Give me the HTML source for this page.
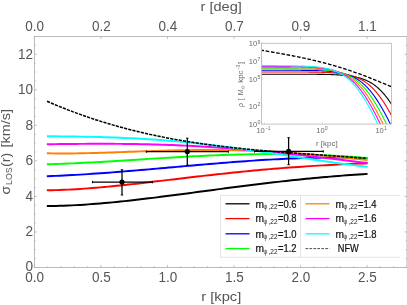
<!DOCTYPE html>
<html><head><meta charset="utf-8"><title>chart</title>
<style>html,body{margin:0;padding:0;background:#fff;overflow:hidden}svg{will-change:transform}svg text{font-family:"Liberation Sans",sans-serif}</style></head>
<body>
<svg width="407" height="305" viewBox="0 0 407 305" style="display:block;position:absolute;left:0;top:0">
<rect width="407" height="305" fill="#fff"/>
<path d="M47.8,206.06 L51.8,206.01 L55.9,205.93 L59.9,205.83 L63.9,205.69 L68.0,205.53 L72.0,205.35 L76.0,205.14 L80.1,204.91 L84.1,204.66 L88.2,204.38 L92.2,204.09 L96.2,203.77 L100.3,203.44 L104.3,203.09 L108.3,202.73 L112.4,202.35 L116.4,201.95 L120.4,201.54 L124.5,201.12 L128.5,200.68 L132.5,200.23 L136.6,199.78 L140.6,199.31 L144.7,198.83 L148.7,198.34 L152.7,197.85 L156.8,197.35 L160.8,196.84 L164.8,196.33 L168.9,195.81 L172.9,195.29 L176.9,194.76 L181.0,194.23 L185.0,193.69 L189.0,193.16 L193.1,192.62 L197.1,192.08 L201.1,191.54 L205.2,191.01 L209.2,190.47 L213.3,189.93 L217.3,189.40 L221.3,188.86 L225.4,188.33 L229.4,187.80 L233.4,187.28 L237.5,186.76 L241.5,186.24 L245.5,185.73 L249.6,185.23 L253.6,184.72 L257.6,184.23 L261.7,183.74 L265.7,183.26 L269.7,182.78 L273.8,182.31 L277.8,181.85 L281.9,181.40 L285.9,180.95 L289.9,180.51 L294.0,180.08 L298.0,179.66 L302.0,179.25 L306.1,178.84 L310.1,178.45 L314.1,178.06 L318.2,177.68 L322.2,177.32 L326.2,176.96 L330.3,176.61 L334.3,176.27 L338.4,175.95 L342.4,175.63 L346.4,175.32 L350.5,175.02 L354.5,174.73 L358.5,174.45 L362.6,174.19 L366.6,173.93" fill="none" stroke="#000000" stroke-width="1.95" stroke-linecap="square"/>
<path d="M47.8,190.30 L51.8,190.22 L55.9,190.11 L59.9,189.98 L63.9,189.82 L68.0,189.63 L72.0,189.42 L76.0,189.18 L80.1,188.93 L84.1,188.65 L88.2,188.35 L92.2,188.04 L96.2,187.71 L100.3,187.36 L104.3,186.99 L108.3,186.62 L112.4,186.22 L116.4,185.82 L120.4,185.41 L124.5,184.98 L128.5,184.55 L132.5,184.11 L136.6,183.66 L140.6,183.21 L144.7,182.75 L148.7,182.28 L152.7,181.81 L156.8,181.34 L160.8,180.86 L164.8,180.38 L168.9,179.90 L172.9,179.43 L176.9,178.95 L181.0,178.47 L185.0,177.99 L189.0,177.52 L193.1,177.05 L197.1,176.58 L201.1,176.11 L205.2,175.65 L209.2,175.19 L213.3,174.74 L217.3,174.29 L221.3,173.85 L225.4,173.42 L229.4,172.99 L233.4,172.57 L237.5,172.16 L241.5,171.75 L245.5,171.35 L249.6,170.96 L253.6,170.58 L257.6,170.20 L261.7,169.84 L265.7,169.48 L269.7,169.13 L273.8,168.79 L277.8,168.46 L281.9,168.14 L285.9,167.83 L289.9,167.52 L294.0,167.23 L298.0,166.94 L302.0,166.66 L306.1,166.39 L310.1,166.13 L314.1,165.88 L318.2,165.64 L322.2,165.40 L326.2,165.17 L330.3,164.95 L334.3,164.74 L338.4,164.54 L342.4,164.34 L346.4,164.15 L350.5,163.96 L354.5,163.78 L358.5,163.60 L362.6,163.43 L366.6,163.27" fill="none" stroke="#ff0000" stroke-width="1.95" stroke-linecap="square"/>
<path d="M47.8,176.24 L51.8,176.08 L55.9,175.90 L59.9,175.71 L63.9,175.51 L68.0,175.30 L72.0,175.08 L76.0,174.85 L80.1,174.61 L84.1,174.36 L88.2,174.10 L92.2,173.83 L96.2,173.55 L100.3,173.26 L104.3,172.97 L108.3,172.67 L112.4,172.36 L116.4,172.04 L120.4,171.72 L124.5,171.40 L128.5,171.07 L132.5,170.73 L136.6,170.39 L140.6,170.05 L144.7,169.70 L148.7,169.35 L152.7,169.00 L156.8,168.64 L160.8,168.29 L164.8,167.93 L168.9,167.57 L172.9,167.21 L176.9,166.85 L181.0,166.49 L185.0,166.14 L189.0,165.78 L193.1,165.43 L197.1,165.07 L201.1,164.72 L205.2,164.38 L209.2,164.03 L213.3,163.69 L217.3,163.36 L221.3,163.03 L225.4,162.70 L229.4,162.38 L233.4,162.07 L237.5,161.76 L241.5,161.46 L245.5,161.17 L249.6,160.89 L253.6,160.61 L257.6,160.34 L261.7,160.09 L265.7,159.84 L269.7,159.60 L273.8,159.37 L277.8,159.16 L281.9,158.95 L285.9,158.76 L289.9,158.58 L294.0,158.41 L298.0,158.26 L302.0,158.12 L306.1,157.99 L310.1,157.88 L314.1,157.79 L318.2,157.71 L322.2,157.64 L326.2,157.59 L330.3,157.56 L334.3,157.55 L338.4,157.56 L342.4,157.58 L346.4,157.62 L350.5,157.68 L354.5,157.77 L358.5,157.87 L362.6,157.99 L366.6,158.14" fill="none" stroke="#0000ff" stroke-width="1.95" stroke-linecap="square"/>
<path d="M47.8,164.25 L51.8,164.13 L55.9,164.01 L59.9,163.86 L63.9,163.71 L68.0,163.55 L72.0,163.37 L76.0,163.19 L80.1,163.00 L84.1,162.79 L88.2,162.58 L92.2,162.36 L96.2,162.14 L100.3,161.91 L104.3,161.67 L108.3,161.43 L112.4,161.19 L116.4,160.94 L120.4,160.69 L124.5,160.44 L128.5,160.18 L132.5,159.92 L136.6,159.67 L140.6,159.41 L144.7,159.16 L148.7,158.90 L152.7,158.65 L156.8,158.40 L160.8,158.15 L164.8,157.90 L168.9,157.66 L172.9,157.42 L176.9,157.19 L181.0,156.96 L185.0,156.74 L189.0,156.53 L193.1,156.32 L197.1,156.11 L201.1,155.92 L205.2,155.73 L209.2,155.55 L213.3,155.38 L217.3,155.22 L221.3,155.06 L225.4,154.92 L229.4,154.78 L233.4,154.66 L237.5,154.55 L241.5,154.45 L245.5,154.35 L249.6,154.27 L253.6,154.21 L257.6,154.15 L261.7,154.11 L265.7,154.08 L269.7,154.06 L273.8,154.06 L277.8,154.06 L281.9,154.09 L285.9,154.12 L289.9,154.17 L294.0,154.24 L298.0,154.32 L302.0,154.41 L306.1,154.52 L310.1,154.64 L314.1,154.78 L318.2,154.93 L322.2,155.10 L326.2,155.29 L330.3,155.49 L334.3,155.70 L338.4,155.93 L342.4,156.18 L346.4,156.44 L350.5,156.72 L354.5,157.02 L358.5,157.33 L362.6,157.66 L366.6,158.00" fill="none" stroke="#00ff00" stroke-width="1.95" stroke-linecap="square"/>
<path d="M47.8,153.33 L51.8,153.40 L55.9,153.45 L59.9,153.47 L63.9,153.47 L68.0,153.46 L72.0,153.42 L76.0,153.37 L80.1,153.31 L84.1,153.23 L88.2,153.14 L92.2,153.04 L96.2,152.93 L100.3,152.81 L104.3,152.68 L108.3,152.55 L112.4,152.41 L116.4,152.27 L120.4,152.13 L124.5,151.98 L128.5,151.84 L132.5,151.69 L136.6,151.54 L140.6,151.40 L144.7,151.26 L148.7,151.12 L152.7,150.99 L156.8,150.86 L160.8,150.74 L164.8,150.63 L168.9,150.52 L172.9,150.42 L176.9,150.33 L181.0,150.25 L185.0,150.18 L189.0,150.11 L193.1,150.06 L197.1,150.03 L201.1,150.00 L205.2,149.98 L209.2,149.98 L213.3,149.99 L217.3,150.01 L221.3,150.05 L225.4,150.10 L229.4,150.16 L233.4,150.24 L237.5,150.34 L241.5,150.44 L245.5,150.56 L249.6,150.70 L253.6,150.85 L257.6,151.01 L261.7,151.19 L265.7,151.39 L269.7,151.59 L273.8,151.81 L277.8,152.05 L281.9,152.30 L285.9,152.56 L289.9,152.84 L294.0,153.13 L298.0,153.43 L302.0,153.74 L306.1,154.07 L310.1,154.40 L314.1,154.75 L318.2,155.11 L322.2,155.48 L326.2,155.86 L330.3,156.25 L334.3,156.64 L338.4,157.05 L342.4,157.46 L346.4,157.87 L350.5,158.30 L354.5,158.72 L358.5,159.15 L362.6,159.59 L366.6,160.03" fill="none" stroke="#ff8000" stroke-width="1.95" stroke-linecap="square"/>
<path d="M47.8,144.22 L51.8,144.18 L55.9,144.13 L59.9,144.08 L63.9,144.04 L68.0,144.00 L72.0,143.96 L76.0,143.92 L80.1,143.89 L84.1,143.87 L88.2,143.84 L92.2,143.83 L96.2,143.81 L100.3,143.81 L104.3,143.81 L108.3,143.82 L112.4,143.83 L116.4,143.85 L120.4,143.88 L124.5,143.92 L128.5,143.97 L132.5,144.02 L136.6,144.09 L140.6,144.16 L144.7,144.24 L148.7,144.33 L152.7,144.43 L156.8,144.55 L160.8,144.67 L164.8,144.80 L168.9,144.94 L172.9,145.09 L176.9,145.26 L181.0,145.43 L185.0,145.61 L189.0,145.81 L193.1,146.01 L197.1,146.23 L201.1,146.46 L205.2,146.70 L209.2,146.95 L213.3,147.21 L217.3,147.48 L221.3,147.76 L225.4,148.05 L229.4,148.35 L233.4,148.66 L237.5,148.98 L241.5,149.31 L245.5,149.66 L249.6,150.01 L253.6,150.37 L257.6,150.74 L261.7,151.12 L265.7,151.50 L269.7,151.90 L273.8,152.30 L277.8,152.71 L281.9,153.13 L285.9,153.56 L289.9,153.99 L294.0,154.43 L298.0,154.87 L302.0,155.32 L306.1,155.78 L310.1,156.24 L314.1,156.70 L318.2,157.17 L322.2,157.64 L326.2,158.12 L330.3,158.59 L334.3,159.07 L338.4,159.55 L342.4,160.03 L346.4,160.51 L350.5,161.00 L354.5,161.47 L358.5,161.95 L362.6,162.43 L366.6,162.90" fill="none" stroke="#ff00ff" stroke-width="1.95" stroke-linecap="square"/>
<path d="M47.8,136.27 L51.8,136.30 L55.9,136.33 L59.9,136.37 L63.9,136.41 L68.0,136.46 L72.0,136.51 L76.0,136.56 L80.1,136.63 L84.1,136.70 L88.2,136.77 L92.2,136.86 L96.2,136.96 L100.3,137.06 L104.3,137.18 L108.3,137.30 L112.4,137.44 L116.4,137.59 L120.4,137.75 L124.5,137.92 L128.5,138.11 L132.5,138.30 L136.6,138.52 L140.6,138.74 L144.7,138.98 L148.7,139.23 L152.7,139.49 L156.8,139.77 L160.8,140.07 L164.8,140.38 L168.9,140.70 L172.9,141.03 L176.9,141.38 L181.0,141.75 L185.0,142.13 L189.0,142.52 L193.1,142.93 L197.1,143.35 L201.1,143.78 L205.2,144.23 L209.2,144.69 L213.3,145.16 L217.3,145.64 L221.3,146.14 L225.4,146.65 L229.4,147.17 L233.4,147.70 L237.5,148.24 L241.5,148.79 L245.5,149.35 L249.6,149.92 L253.6,150.50 L257.6,151.08 L261.7,151.68 L265.7,152.28 L269.7,152.88 L273.8,153.49 L277.8,154.10 L281.9,154.72 L285.9,155.34 L289.9,155.96 L294.0,156.58 L298.0,157.21 L302.0,157.83 L306.1,158.45 L310.1,159.06 L314.1,159.68 L318.2,160.29 L322.2,160.89 L326.2,161.48 L330.3,162.07 L334.3,162.65 L338.4,163.21 L342.4,163.77 L346.4,164.31 L350.5,164.84 L354.5,165.35 L358.5,165.85 L362.6,166.33 L366.6,166.78" fill="none" stroke="#00ffff" stroke-width="1.95" stroke-linecap="square"/>
<path d="M47.0,101.26 L51.0,103.01 L55.1,104.72 L59.1,106.38 L63.2,108.01 L67.2,109.60 L71.3,111.15 L75.3,112.66 L79.4,114.14 L83.4,115.57 L87.5,116.98 L91.5,118.34 L95.5,119.67 L99.6,120.97 L103.6,122.23 L107.7,123.45 L111.7,124.65 L115.8,125.81 L119.8,126.94 L123.9,128.03 L127.9,129.10 L132.0,130.13 L136.0,131.14 L140.0,132.11 L144.1,133.06 L148.1,133.97 L152.2,134.86 L156.2,135.72 L160.3,136.56 L164.3,137.37 L168.4,138.15 L172.4,138.91 L176.5,139.64 L180.5,140.35 L184.5,141.04 L188.6,141.70 L192.6,142.34 L196.7,142.96 L200.7,143.56 L204.8,144.14 L208.8,144.70 L212.9,145.24 L216.9,145.77 L221.0,146.27 L225.0,146.76 L229.1,147.23 L233.1,147.69 L237.1,148.13 L241.2,148.56 L245.2,148.97 L249.3,149.37 L253.3,149.75 L257.4,150.13 L261.4,150.49 L265.5,150.85 L269.5,151.19 L273.6,151.53 L277.6,151.86 L281.6,152.17 L285.7,152.49 L289.7,152.79 L293.8,153.09 L297.8,153.39 L301.9,153.68 L305.9,153.97 L310.0,154.26 L314.0,154.54 L318.1,154.83 L322.1,155.11 L326.1,155.39 L330.2,155.68 L334.2,155.96 L338.3,156.25 L342.3,156.54 L346.4,156.84 L350.4,157.14 L354.5,157.45 L358.5,157.76 L362.6,158.08 L366.6,158.41" fill="none" stroke="#000" stroke-width="1.5" stroke-dasharray="3.2 1.1"/>
<g stroke="#000" stroke-width="1.25" fill="none">
<path d="M92.5,182.1H152.4M122.0,169.8V195.0"/>
<path d="M92.5,180.9v2.4M152.4,180.9v2.4M120.8,169.8h2.4M120.8,195.0h2.4" stroke-width="1"/>
</g>
<circle cx="122.0" cy="182.1" r="2.6" fill="#000"/>
<g stroke="#000" stroke-width="1.25" fill="none">
<path d="M146.3,151.6H228.3M187.3,138.2V165.2"/>
<path d="M146.3,150.4v2.4M228.3,150.4v2.4M186.10000000000002,138.2h2.4M186.10000000000002,165.2h2.4" stroke-width="1"/>
</g>
<circle cx="187.3" cy="151.6" r="2.6" fill="#000"/>
<g stroke="#000" stroke-width="1.25" fill="none">
<path d="M254.5,151.4H323.3M288.6,137.7V164.7"/>
<path d="M254.5,150.20000000000002v2.4M323.3,150.20000000000002v2.4M287.40000000000003,137.7h2.4M287.40000000000003,164.7h2.4" stroke-width="1"/>
</g>
<circle cx="288.6" cy="151.4" r="2.6" fill="#000"/>
<path d="M407.0,36.5H34.45V267.5H407.0" fill="none" stroke="#bcbcbc" stroke-width="1" stroke-linecap="square"/><path d="M407.0,36.5V267.5" stroke="#bcbcbc" stroke-width="1"/>
<path d="M34.45,267.5v-2.4M34.45,36.5v2.4M47.76,267.5v-1.3M61.06,267.5v-1.3M74.37,267.5v-1.3M87.67,267.5v-1.3M100.98,267.5v-2.4M100.98,36.5v2.4M114.28,267.5v-1.3M127.59,267.5v-1.3M140.89,267.5v-1.3M154.20,267.5v-1.3M167.50,267.5v-2.4M167.50,36.5v2.4M180.81,267.5v-1.3M194.11,267.5v-1.3M207.42,267.5v-1.3M220.73,267.5v-1.3M234.03,267.5v-2.4M234.03,36.5v2.4M247.34,267.5v-1.3M260.64,267.5v-1.3M273.95,267.5v-1.3M287.25,267.5v-1.3M300.56,267.5v-2.4M300.56,36.5v2.4M313.86,267.5v-1.3M327.17,267.5v-1.3M340.47,267.5v-1.3M353.78,267.5v-1.3M367.08,267.5v-2.4M367.08,36.5v2.4M380.39,267.5v-1.3M393.69,267.5v-1.3M407.00,267.5v-1.3M34.45,267.50h2.4M407.0,267.50h-2.4M34.45,258.62h1.3M407.0,258.62h-1.3M34.45,249.73h1.3M407.0,249.73h-1.3M34.45,240.85h1.3M407.0,240.85h-1.3M34.45,231.96h2.4M407.0,231.96h-2.4M34.45,223.08h1.3M407.0,223.08h-1.3M34.45,214.19h1.3M407.0,214.19h-1.3M34.45,205.31h1.3M407.0,205.31h-1.3M34.45,196.42h2.4M407.0,196.42h-2.4M34.45,187.54h1.3M407.0,187.54h-1.3M34.45,178.65h1.3M407.0,178.65h-1.3M34.45,169.77h1.3M407.0,169.77h-1.3M34.45,160.88h2.4M407.0,160.88h-2.4M34.45,152.00h1.3M407.0,152.00h-1.3M34.45,143.12h1.3M407.0,143.12h-1.3M34.45,134.23h1.3M407.0,134.23h-1.3M34.45,125.35h2.4M407.0,125.35h-2.4M34.45,116.46h1.3M407.0,116.46h-1.3M34.45,107.58h1.3M407.0,107.58h-1.3M34.45,98.69h1.3M407.0,98.69h-1.3M34.45,89.81h2.4M407.0,89.81h-2.4M34.45,80.92h1.3M407.0,80.92h-1.3M34.45,72.04h1.3M407.0,72.04h-1.3M34.45,63.15h1.3M407.0,63.15h-1.3M34.45,54.27h2.4M407.0,54.27h-2.4M34.45,45.38h1.3M407.0,45.38h-1.3M34.45,36.50h1.3M407.0,36.50h-1.3" stroke="#aeaeae" stroke-width="0.8" fill="none"/>
<text x="34.75" y="282.3" font-size="14.0" text-anchor="middle" fill="#555555" textLength="18.8" lengthAdjust="spacingAndGlyphs">0.0</text>
<text x="101.27678571428572" y="282.3" font-size="14.0" text-anchor="middle" fill="#555555" textLength="18.8" lengthAdjust="spacingAndGlyphs">0.5</text>
<text x="167.80357142857144" y="282.3" font-size="14.0" text-anchor="middle" fill="#555555" textLength="18.8" lengthAdjust="spacingAndGlyphs">1.0</text>
<text x="234.33035714285717" y="282.3" font-size="14.0" text-anchor="middle" fill="#555555" textLength="18.8" lengthAdjust="spacingAndGlyphs">1.5</text>
<text x="300.8571428571429" y="282.3" font-size="14.0" text-anchor="middle" fill="#555555" textLength="18.8" lengthAdjust="spacingAndGlyphs">2.0</text>
<text x="367.3839285714286" y="282.3" font-size="14.0" text-anchor="middle" fill="#555555" textLength="18.8" lengthAdjust="spacingAndGlyphs">2.5</text>
<text x="34.75" y="31.0" font-size="14.0" text-anchor="middle" fill="#555555" textLength="18.8" lengthAdjust="spacingAndGlyphs">0.0</text>
<text x="101.27678571428572" y="31.0" font-size="14.0" text-anchor="middle" fill="#555555" textLength="18.8" lengthAdjust="spacingAndGlyphs">0.2</text>
<text x="167.80357142857144" y="31.0" font-size="14.0" text-anchor="middle" fill="#555555" textLength="18.8" lengthAdjust="spacingAndGlyphs">0.4</text>
<text x="234.33035714285717" y="31.0" font-size="14.0" text-anchor="middle" fill="#555555" textLength="18.8" lengthAdjust="spacingAndGlyphs">0.7</text>
<text x="300.8571428571429" y="31.0" font-size="14.0" text-anchor="middle" fill="#555555" textLength="18.8" lengthAdjust="spacingAndGlyphs">0.9</text>
<text x="367.3839285714286" y="31.0" font-size="14.0" text-anchor="middle" fill="#555555" textLength="18.8" lengthAdjust="spacingAndGlyphs">1.1</text>
<text x="33.0" y="271.1" font-size="14.0" text-anchor="end" fill="#555555" textLength="7.6" lengthAdjust="spacingAndGlyphs">0</text>
<text x="33.0" y="236.21153846153845" font-size="14.0" text-anchor="end" fill="#555555" textLength="7.6" lengthAdjust="spacingAndGlyphs">2</text>
<text x="33.0" y="200.6730769230769" font-size="14.0" text-anchor="end" fill="#555555" textLength="7.6" lengthAdjust="spacingAndGlyphs">4</text>
<text x="33.0" y="165.1346153846154" font-size="14.0" text-anchor="end" fill="#555555" textLength="7.6" lengthAdjust="spacingAndGlyphs">6</text>
<text x="33.0" y="129.59615384615384" font-size="14.0" text-anchor="end" fill="#555555" textLength="7.6" lengthAdjust="spacingAndGlyphs">8</text>
<text x="33.0" y="94.05769230769229" font-size="14.0" text-anchor="end" fill="#555555" textLength="15.0" lengthAdjust="spacingAndGlyphs">10</text>
<text x="33.0" y="58.519230769230774" font-size="14.0" text-anchor="end" fill="#555555" textLength="15.0" lengthAdjust="spacingAndGlyphs">12</text>
<text x="221.3" y="301.4" font-size="13.5" text-anchor="middle" fill="#555555" textLength="40" lengthAdjust="spacingAndGlyphs">r [kpc]</text>
<text x="221.2" y="10.6" font-size="13.5" text-anchor="middle" fill="#555555" textLength="41.3" lengthAdjust="spacingAndGlyphs">r [deg]</text>
<g transform="translate(10.3,194.6) rotate(-90)" fill="#555555"><text x="0" y="0" font-size="13.5" textLength="8.6" lengthAdjust="spacingAndGlyphs">σ</text><text x="9.6" y="1.7" font-size="9.6" textLength="17.6" lengthAdjust="spacingAndGlyphs">LOS</text><text x="27.6" y="0" font-size="13.5" textLength="14.2" lengthAdjust="spacingAndGlyphs">(r)</text><text x="47" y="0" font-size="13.5" textLength="38.6" lengthAdjust="spacingAndGlyphs">[km/s]</text></g>
<rect x="220.5" y="195.4" width="180" height="61.9" fill="#fff"/><path d="M400.3,195.4H220.5V257.3H400.3" fill="none" stroke="#dcdcdc" stroke-width="0.8"/>
<path d="M300.5,195.4V257.3" stroke="#dcdcdc" stroke-width="0.8"/>
<path d="M225.5,203.8H249.5" stroke="#000000" stroke-width="1.3"/><text x="255.4" y="207.55" font-size="10.1" fill="#111" stroke="#111" stroke-width="0.2" textLength="8.5" lengthAdjust="spacingAndGlyphs">m</text><text x="263.6" y="209.25" font-size="6.6" fill="#111" textLength="3.7" lengthAdjust="spacingAndGlyphs">ψ</text><text x="268.5" y="209.25" font-size="6.6" fill="#111" textLength="9.0" lengthAdjust="spacingAndGlyphs">,22</text><text x="278.0" y="207.55" font-size="10.1" fill="#111" stroke="#111" stroke-width="0.2" textLength="18.6" lengthAdjust="spacingAndGlyphs">=0.6</text>
<path d="M225.5,218.6H249.5" stroke="#ff0000" stroke-width="1.3"/><text x="255.4" y="222.35" font-size="10.1" fill="#111" stroke="#111" stroke-width="0.2" textLength="8.5" lengthAdjust="spacingAndGlyphs">m</text><text x="263.6" y="224.04999999999998" font-size="6.6" fill="#111" textLength="3.7" lengthAdjust="spacingAndGlyphs">ψ</text><text x="268.5" y="224.04999999999998" font-size="6.6" fill="#111" textLength="9.0" lengthAdjust="spacingAndGlyphs">,22</text><text x="278.0" y="222.35" font-size="10.1" fill="#111" stroke="#111" stroke-width="0.2" textLength="18.6" lengthAdjust="spacingAndGlyphs">=0.8</text>
<path d="M225.5,233.8H249.5" stroke="#0000ff" stroke-width="1.3"/><text x="255.4" y="237.55" font-size="10.1" fill="#111" stroke="#111" stroke-width="0.2" textLength="8.5" lengthAdjust="spacingAndGlyphs">m</text><text x="263.6" y="239.25" font-size="6.6" fill="#111" textLength="3.7" lengthAdjust="spacingAndGlyphs">ψ</text><text x="268.5" y="239.25" font-size="6.6" fill="#111" textLength="9.0" lengthAdjust="spacingAndGlyphs">,22</text><text x="278.0" y="237.55" font-size="10.1" fill="#111" stroke="#111" stroke-width="0.2" textLength="18.6" lengthAdjust="spacingAndGlyphs">=1.0</text>
<path d="M225.5,248.6H249.5" stroke="#00ff00" stroke-width="1.3"/><text x="255.4" y="252.35" font-size="10.1" fill="#111" stroke="#111" stroke-width="0.2" textLength="8.5" lengthAdjust="spacingAndGlyphs">m</text><text x="263.6" y="254.04999999999998" font-size="6.6" fill="#111" textLength="3.7" lengthAdjust="spacingAndGlyphs">ψ</text><text x="268.5" y="254.04999999999998" font-size="6.6" fill="#111" textLength="9.0" lengthAdjust="spacingAndGlyphs">,22</text><text x="278.0" y="252.35" font-size="10.1" fill="#111" stroke="#111" stroke-width="0.2" textLength="18.6" lengthAdjust="spacingAndGlyphs">=1.2</text>
<path d="M305.5,203.8H329.5" stroke="#ff8000" stroke-width="1.3"/><text x="335.4" y="207.55" font-size="10.1" fill="#111" stroke="#111" stroke-width="0.2" textLength="8.5" lengthAdjust="spacingAndGlyphs">m</text><text x="343.59999999999997" y="209.25" font-size="6.6" fill="#111" textLength="3.7" lengthAdjust="spacingAndGlyphs">ψ</text><text x="348.5" y="209.25" font-size="6.6" fill="#111" textLength="9.0" lengthAdjust="spacingAndGlyphs">,22</text><text x="358.0" y="207.55" font-size="10.1" fill="#111" stroke="#111" stroke-width="0.2" textLength="18.6" lengthAdjust="spacingAndGlyphs">=1.4</text>
<path d="M305.5,218.6H329.5" stroke="#ff00ff" stroke-width="1.3"/><text x="335.4" y="222.35" font-size="10.1" fill="#111" stroke="#111" stroke-width="0.2" textLength="8.5" lengthAdjust="spacingAndGlyphs">m</text><text x="343.59999999999997" y="224.04999999999998" font-size="6.6" fill="#111" textLength="3.7" lengthAdjust="spacingAndGlyphs">ψ</text><text x="348.5" y="224.04999999999998" font-size="6.6" fill="#111" textLength="9.0" lengthAdjust="spacingAndGlyphs">,22</text><text x="358.0" y="222.35" font-size="10.1" fill="#111" stroke="#111" stroke-width="0.2" textLength="18.6" lengthAdjust="spacingAndGlyphs">=1.6</text>
<path d="M305.5,233.8H329.5" stroke="#00ffff" stroke-width="1.3"/><text x="335.4" y="237.55" font-size="10.1" fill="#111" stroke="#111" stroke-width="0.2" textLength="8.5" lengthAdjust="spacingAndGlyphs">m</text><text x="343.59999999999997" y="239.25" font-size="6.6" fill="#111" textLength="3.7" lengthAdjust="spacingAndGlyphs">ψ</text><text x="348.5" y="239.25" font-size="6.6" fill="#111" textLength="9.0" lengthAdjust="spacingAndGlyphs">,22</text><text x="358.0" y="237.55" font-size="10.1" fill="#111" stroke="#111" stroke-width="0.2" textLength="18.6" lengthAdjust="spacingAndGlyphs">=1.8</text>
<path d="M305.5,248.6H329.5" stroke="#222" stroke-width="0.8" stroke-dasharray="2.7 1.25"/>
<text x="337.8" y="252.35" font-size="10.1" fill="#111" stroke="#111" stroke-width="0.2" textLength="21" lengthAdjust="spacingAndGlyphs">NFW</text>
<clipPath id="ic"><rect x="261.5" y="43.3" width="129.89999999999998" height="80.8"/></clipPath>
<rect x="261.5" y="43.3" width="129.89999999999998" height="80.8" fill="#fff"/>
<g clip-path="url(#ic)">
<path d="M260.50,74.19 L261.16,74.19 L261.83,74.19 L262.49,74.19 L263.16,74.19 L263.82,74.19 L264.48,74.19 L265.15,74.19 L265.81,74.19 L266.48,74.19 L267.14,74.19 L267.80,74.19 L268.47,74.19 L269.13,74.19 L269.80,74.19 L270.46,74.19 L271.13,74.19 L271.79,74.19 L272.45,74.19 L273.12,74.19 L273.78,74.19 L274.45,74.19 L275.11,74.19 L275.77,74.19 L276.44,74.19 L277.10,74.19 L277.77,74.19 L278.43,74.19 L279.09,74.19 L279.76,74.19 L280.42,74.19 L281.09,74.19 L281.75,74.19 L282.42,74.19 L283.08,74.19 L283.74,74.19 L284.41,74.19 L285.07,74.19 L285.74,74.20 L286.40,74.20 L287.06,74.20 L287.73,74.20 L288.39,74.20 L289.06,74.20 L289.72,74.20 L290.38,74.20 L291.05,74.20 L291.71,74.20 L292.38,74.20 L293.04,74.20 L293.71,74.21 L294.37,74.21 L295.03,74.21 L295.70,74.21 L296.36,74.21 L297.03,74.21 L297.69,74.21 L298.35,74.21 L299.02,74.22 L299.68,74.22 L300.35,74.22 L301.01,74.22 L301.67,74.22 L302.34,74.23 L303.00,74.23 L303.67,74.23 L304.33,74.23 L305.00,74.24 L305.66,74.24 L306.32,74.24 L306.99,74.25 L307.65,74.25 L308.32,74.25 L308.98,74.26 L309.64,74.26 L310.31,74.26 L310.97,74.27 L311.64,74.27 L312.30,74.28 L312.96,74.28 L313.63,74.29 L314.29,74.29 L314.96,74.30 L315.62,74.31 L316.29,74.31 L316.95,74.32 L317.61,74.33 L318.28,74.34 L318.94,74.34 L319.61,74.35 L320.27,74.36 L320.93,74.37 L321.60,74.38 L322.26,74.39 L322.93,74.40 L323.59,74.41 L324.25,74.43 L324.92,74.44 L325.58,74.45 L326.25,74.47 L326.91,74.48 L327.58,74.50 L328.24,74.52 L328.90,74.54 L329.57,74.55 L330.23,74.57 L330.90,74.60 L331.56,74.62 L332.22,74.64 L332.89,74.67 L333.55,74.69 L334.22,74.72 L334.88,74.75 L335.54,74.78 L336.21,74.81 L336.87,74.84 L337.54,74.88 L338.20,74.91 L338.87,74.95 L339.53,74.99 L340.19,75.04 L340.86,75.08 L341.52,75.13 L342.19,75.18 L342.85,75.23 L343.51,75.29 L344.18,75.35 L344.84,75.41 L345.51,75.48 L346.17,75.54 L346.84,75.62 L347.50,75.69 L348.16,75.77 L348.83,75.85 L349.49,75.94 L350.16,76.03 L350.82,76.13 L351.48,76.23 L352.15,76.34 L352.81,76.45 L353.48,76.57 L354.14,76.70 L354.80,76.83 L355.47,76.96 L356.13,77.11 L356.80,77.26 L357.46,77.41 L358.13,77.58 L358.79,77.75 L359.45,77.93 L360.12,78.12 L360.78,78.32 L361.45,78.53 L362.11,78.75 L362.77,78.98 L363.44,79.22 L364.10,79.47 L364.77,79.73 L365.43,80.01 L366.09,80.29 L366.76,80.59 L367.42,80.90 L368.09,81.23 L368.75,81.56 L369.42,81.92 L370.08,82.29 L370.74,82.67 L371.41,83.07 L372.07,83.48 L372.74,83.91 L373.40,84.36 L374.06,84.83 L374.73,85.31 L375.39,85.81 L376.06,86.34 L376.72,86.87 L377.38,87.43 L378.05,88.01 L378.71,88.61 L379.38,89.23 L380.04,89.87 L380.71,90.52 L381.37,91.20 L382.03,91.91 L382.70,92.63 L383.36,93.37 L384.03,94.14 L384.69,94.92 L385.35,95.73 L386.02,96.56 L386.68,97.41 L387.35,98.29 L388.01,99.18 L388.67,100.10 L389.34,101.03 L390.00,101.99 L390.67,102.97 L391.33,103.97 L392.00,104.99 L392.66,106.03" fill="none" stroke="#000000" stroke-width="1.1"/>
<path d="M260.50,71.94 L261.16,71.94 L261.83,71.94 L262.49,71.94 L263.16,71.94 L263.82,71.94 L264.48,71.94 L265.15,71.94 L265.81,71.94 L266.48,71.94 L267.14,71.95 L267.80,71.95 L268.47,71.95 L269.13,71.95 L269.80,71.95 L270.46,71.95 L271.13,71.95 L271.79,71.95 L272.45,71.95 L273.12,71.95 L273.78,71.95 L274.45,71.95 L275.11,71.95 L275.77,71.95 L276.44,71.95 L277.10,71.95 L277.77,71.95 L278.43,71.95 L279.09,71.95 L279.76,71.95 L280.42,71.95 L281.09,71.96 L281.75,71.96 L282.42,71.96 L283.08,71.96 L283.74,71.96 L284.41,71.96 L285.07,71.96 L285.74,71.96 L286.40,71.96 L287.06,71.96 L287.73,71.97 L288.39,71.97 L289.06,71.97 L289.72,71.97 L290.38,71.97 L291.05,71.97 L291.71,71.98 L292.38,71.98 L293.04,71.98 L293.71,71.98 L294.37,71.98 L295.03,71.99 L295.70,71.99 L296.36,71.99 L297.03,71.99 L297.69,72.00 L298.35,72.00 L299.02,72.00 L299.68,72.01 L300.35,72.01 L301.01,72.01 L301.67,72.02 L302.34,72.02 L303.00,72.03 L303.67,72.03 L304.33,72.04 L305.00,72.04 L305.66,72.05 L306.32,72.05 L306.99,72.06 L307.65,72.06 L308.32,72.07 L308.98,72.08 L309.64,72.08 L310.31,72.09 L310.97,72.10 L311.64,72.11 L312.30,72.12 L312.96,72.13 L313.63,72.14 L314.29,72.15 L314.96,72.16 L315.62,72.17 L316.29,72.18 L316.95,72.20 L317.61,72.21 L318.28,72.23 L318.94,72.24 L319.61,72.26 L320.27,72.27 L320.93,72.29 L321.60,72.31 L322.26,72.33 L322.93,72.35 L323.59,72.37 L324.25,72.40 L324.92,72.42 L325.58,72.45 L326.25,72.48 L326.91,72.50 L327.58,72.53 L328.24,72.57 L328.90,72.60 L329.57,72.63 L330.23,72.67 L330.90,72.71 L331.56,72.75 L332.22,72.80 L332.89,72.84 L333.55,72.89 L334.22,72.94 L334.88,72.99 L335.54,73.05 L336.21,73.11 L336.87,73.17 L337.54,73.23 L338.20,73.30 L338.87,73.37 L339.53,73.45 L340.19,73.53 L340.86,73.61 L341.52,73.70 L342.19,73.79 L342.85,73.89 L343.51,73.99 L344.18,74.10 L344.84,74.21 L345.51,74.33 L346.17,74.45 L346.84,74.58 L347.50,74.72 L348.16,74.86 L348.83,75.02 L349.49,75.17 L350.16,75.34 L350.82,75.51 L351.48,75.69 L352.15,75.89 L352.81,76.08 L353.48,76.29 L354.14,76.51 L354.80,76.74 L355.47,76.98 L356.13,77.23 L356.80,77.49 L357.46,77.77 L358.13,78.05 L358.79,78.35 L359.45,78.66 L360.12,78.99 L360.78,79.33 L361.45,79.68 L362.11,80.05 L362.77,80.43 L363.44,80.83 L364.10,81.25 L364.77,81.68 L365.43,82.13 L366.09,82.60 L366.76,83.08 L367.42,83.58 L368.09,84.10 L368.75,84.64 L369.42,85.20 L370.08,85.78 L370.74,86.38 L371.41,87.00 L372.07,87.64 L372.74,88.30 L373.40,88.98 L374.06,89.68 L374.73,90.40 L375.39,91.14 L376.06,91.91 L376.72,92.70 L377.38,93.51 L378.05,94.34 L378.71,95.19 L379.38,96.06 L380.04,96.96 L380.71,97.87 L381.37,98.81 L382.03,99.77 L382.70,100.75 L383.36,101.75 L384.03,102.77 L384.69,103.81 L385.35,104.87 L386.02,105.95 L386.68,107.05 L387.35,108.17 L388.01,109.31 L388.67,110.46 L389.34,111.64 L390.00,112.83 L390.67,114.03 L391.33,115.26 L392.00,116.50 L392.66,117.76" fill="none" stroke="#ff0000" stroke-width="1.1"/>
<path d="M260.50,70.21 L261.16,70.21 L261.83,70.21 L262.49,70.21 L263.16,70.21 L263.82,70.21 L264.48,70.21 L265.15,70.21 L265.81,70.21 L266.48,70.21 L267.14,70.21 L267.80,70.21 L268.47,70.21 L269.13,70.21 L269.80,70.21 L270.46,70.21 L271.13,70.21 L271.79,70.21 L272.45,70.21 L273.12,70.21 L273.78,70.21 L274.45,70.21 L275.11,70.22 L275.77,70.22 L276.44,70.22 L277.10,70.22 L277.77,70.22 L278.43,70.22 L279.09,70.22 L279.76,70.22 L280.42,70.22 L281.09,70.23 L281.75,70.23 L282.42,70.23 L283.08,70.23 L283.74,70.23 L284.41,70.23 L285.07,70.23 L285.74,70.24 L286.40,70.24 L287.06,70.24 L287.73,70.24 L288.39,70.24 L289.06,70.25 L289.72,70.25 L290.38,70.25 L291.05,70.26 L291.71,70.26 L292.38,70.26 L293.04,70.26 L293.71,70.27 L294.37,70.27 L295.03,70.28 L295.70,70.28 L296.36,70.28 L297.03,70.29 L297.69,70.29 L298.35,70.30 L299.02,70.30 L299.68,70.31 L300.35,70.31 L301.01,70.32 L301.67,70.33 L302.34,70.33 L303.00,70.34 L303.67,70.35 L304.33,70.36 L305.00,70.37 L305.66,70.37 L306.32,70.38 L306.99,70.39 L307.65,70.40 L308.32,70.42 L308.98,70.43 L309.64,70.44 L310.31,70.45 L310.97,70.47 L311.64,70.48 L312.30,70.49 L312.96,70.51 L313.63,70.53 L314.29,70.55 L314.96,70.56 L315.62,70.58 L316.29,70.60 L316.95,70.63 L317.61,70.65 L318.28,70.67 L318.94,70.70 L319.61,70.72 L320.27,70.75 L320.93,70.78 L321.60,70.81 L322.26,70.85 L322.93,70.88 L323.59,70.92 L324.25,70.95 L324.92,71.00 L325.58,71.04 L326.25,71.08 L326.91,71.13 L327.58,71.18 L328.24,71.23 L328.90,71.29 L329.57,71.34 L330.23,71.40 L330.90,71.47 L331.56,71.53 L332.22,71.60 L332.89,71.68 L333.55,71.76 L334.22,71.84 L334.88,71.93 L335.54,72.02 L336.21,72.11 L336.87,72.21 L337.54,72.32 L338.20,72.43 L338.87,72.54 L339.53,72.66 L340.19,72.79 L340.86,72.93 L341.52,73.07 L342.19,73.21 L342.85,73.37 L343.51,73.53 L344.18,73.70 L344.84,73.88 L345.51,74.07 L346.17,74.26 L346.84,74.47 L347.50,74.68 L348.16,74.91 L348.83,75.14 L349.49,75.39 L350.16,75.65 L350.82,75.92 L351.48,76.20 L352.15,76.49 L352.81,76.80 L353.48,77.12 L354.14,77.45 L354.80,77.80 L355.47,78.16 L356.13,78.54 L356.80,78.93 L357.46,79.34 L358.13,79.77 L358.79,80.21 L359.45,80.67 L360.12,81.14 L360.78,81.64 L361.45,82.15 L362.11,82.69 L362.77,83.24 L363.44,83.81 L364.10,84.40 L364.77,85.01 L365.43,85.64 L366.09,86.29 L366.76,86.96 L367.42,87.66 L368.09,88.37 L368.75,89.11 L369.42,89.86 L370.08,90.64 L370.74,91.44 L371.41,92.26 L372.07,93.11 L372.74,93.97 L373.40,94.86 L374.06,95.76 L374.73,96.69 L375.39,97.64 L376.06,98.62 L376.72,99.61 L377.38,100.62 L378.05,101.65 L378.71,102.71 L379.38,103.78 L380.04,104.87 L380.71,105.98 L381.37,107.11 L382.03,108.26 L382.70,109.43 L383.36,110.61 L384.03,111.81 L384.69,113.03 L385.35,114.26 L386.02,115.51 L386.68,116.78 L387.35,118.06 L388.01,119.35 L388.67,120.66 L389.34,121.99 L390.00,123.32 L390.67,124.67 L391.33,126.03 L392.00,127.41 L392.66,128.79" fill="none" stroke="#0000ff" stroke-width="1.1"/>
<path d="M260.50,68.79 L261.16,68.79 L261.83,68.79 L262.49,68.79 L263.16,68.79 L263.82,68.79 L264.48,68.79 L265.15,68.79 L265.81,68.79 L266.48,68.79 L267.14,68.79 L267.80,68.79 L268.47,68.79 L269.13,68.79 L269.80,68.79 L270.46,68.79 L271.13,68.79 L271.79,68.80 L272.45,68.80 L273.12,68.80 L273.78,68.80 L274.45,68.80 L275.11,68.80 L275.77,68.80 L276.44,68.80 L277.10,68.80 L277.77,68.81 L278.43,68.81 L279.09,68.81 L279.76,68.81 L280.42,68.81 L281.09,68.81 L281.75,68.82 L282.42,68.82 L283.08,68.82 L283.74,68.82 L284.41,68.83 L285.07,68.83 L285.74,68.83 L286.40,68.83 L287.06,68.84 L287.73,68.84 L288.39,68.84 L289.06,68.85 L289.72,68.85 L290.38,68.85 L291.05,68.86 L291.71,68.86 L292.38,68.87 L293.04,68.87 L293.71,68.88 L294.37,68.88 L295.03,68.89 L295.70,68.89 L296.36,68.90 L297.03,68.91 L297.69,68.91 L298.35,68.92 L299.02,68.93 L299.68,68.93 L300.35,68.94 L301.01,68.95 L301.67,68.96 L302.34,68.97 L303.00,68.98 L303.67,68.99 L304.33,69.00 L305.00,69.02 L305.66,69.03 L306.32,69.04 L306.99,69.06 L307.65,69.07 L308.32,69.09 L308.98,69.10 L309.64,69.12 L310.31,69.14 L310.97,69.16 L311.64,69.18 L312.30,69.20 L312.96,69.22 L313.63,69.25 L314.29,69.27 L314.96,69.30 L315.62,69.33 L316.29,69.36 L316.95,69.39 L317.61,69.42 L318.28,69.46 L318.94,69.49 L319.61,69.53 L320.27,69.57 L320.93,69.61 L321.60,69.66 L322.26,69.70 L322.93,69.75 L323.59,69.81 L324.25,69.86 L324.92,69.92 L325.58,69.98 L326.25,70.04 L326.91,70.11 L327.58,70.18 L328.24,70.25 L328.90,70.33 L329.57,70.41 L330.23,70.50 L330.90,70.59 L331.56,70.68 L332.22,70.78 L332.89,70.89 L333.55,71.00 L334.22,71.11 L334.88,71.23 L335.54,71.36 L336.21,71.49 L336.87,71.63 L337.54,71.78 L338.20,71.94 L338.87,72.10 L339.53,72.27 L340.19,72.45 L340.86,72.63 L341.52,72.83 L342.19,73.03 L342.85,73.25 L343.51,73.47 L344.18,73.71 L344.84,73.95 L345.51,74.21 L346.17,74.48 L346.84,74.76 L347.50,75.05 L348.16,75.35 L348.83,75.67 L349.49,76.00 L350.16,76.35 L350.82,76.71 L351.48,77.09 L352.15,77.48 L352.81,77.89 L353.48,78.31 L354.14,78.75 L354.80,79.21 L355.47,79.69 L356.13,80.18 L356.80,80.69 L357.46,81.22 L358.13,81.77 L358.79,82.34 L359.45,82.93 L360.12,83.54 L360.78,84.17 L361.45,84.82 L362.11,85.49 L362.77,86.18 L363.44,86.89 L364.10,87.63 L364.77,88.38 L365.43,89.16 L366.09,89.96 L366.76,90.78 L367.42,91.62 L368.09,92.49 L368.75,93.37 L369.42,94.28 L370.08,95.20 L370.74,96.15 L371.41,97.12 L372.07,98.11 L372.74,99.12 L373.40,100.16 L374.06,101.21 L374.73,102.28 L375.39,103.37 L376.06,104.48 L376.72,105.61 L377.38,106.75 L378.05,107.92 L378.71,109.10 L379.38,110.30 L380.04,111.52 L380.71,112.75 L381.37,114.00 L382.03,115.26 L382.70,116.54 L383.36,117.84 L384.03,119.15 L384.69,120.47 L385.35,121.80 L386.02,123.15 L386.68,124.51 L387.35,125.89 L388.01,127.27 L388.67,128.67 L389.34,130.07 L390.00,131.49 L390.67,132.92" fill="none" stroke="#00ff00" stroke-width="1.1"/>
<path d="M260.50,67.59 L261.16,67.59 L261.83,67.59 L262.49,67.59 L263.16,67.59 L263.82,67.59 L264.48,67.59 L265.15,67.59 L265.81,67.59 L266.48,67.59 L267.14,67.59 L267.80,67.59 L268.47,67.59 L269.13,67.60 L269.80,67.60 L270.46,67.60 L271.13,67.60 L271.79,67.60 L272.45,67.60 L273.12,67.60 L273.78,67.60 L274.45,67.61 L275.11,67.61 L275.77,67.61 L276.44,67.61 L277.10,67.61 L277.77,67.61 L278.43,67.62 L279.09,67.62 L279.76,67.62 L280.42,67.62 L281.09,67.63 L281.75,67.63 L282.42,67.63 L283.08,67.63 L283.74,67.64 L284.41,67.64 L285.07,67.64 L285.74,67.65 L286.40,67.65 L287.06,67.65 L287.73,67.66 L288.39,67.66 L289.06,67.67 L289.72,67.67 L290.38,67.68 L291.05,67.68 L291.71,67.69 L292.38,67.70 L293.04,67.70 L293.71,67.71 L294.37,67.72 L295.03,67.72 L295.70,67.73 L296.36,67.74 L297.03,67.75 L297.69,67.76 L298.35,67.77 L299.02,67.78 L299.68,67.79 L300.35,67.80 L301.01,67.81 L301.67,67.83 L302.34,67.84 L303.00,67.85 L303.67,67.87 L304.33,67.88 L305.00,67.90 L305.66,67.92 L306.32,67.94 L306.99,67.96 L307.65,67.98 L308.32,68.00 L308.98,68.02 L309.64,68.04 L310.31,68.07 L310.97,68.09 L311.64,68.12 L312.30,68.15 L312.96,68.18 L313.63,68.21 L314.29,68.25 L314.96,68.28 L315.62,68.32 L316.29,68.36 L316.95,68.40 L317.61,68.45 L318.28,68.50 L318.94,68.54 L319.61,68.60 L320.27,68.65 L320.93,68.71 L321.60,68.77 L322.26,68.83 L322.93,68.90 L323.59,68.97 L324.25,69.04 L324.92,69.12 L325.58,69.20 L326.25,69.28 L326.91,69.37 L327.58,69.47 L328.24,69.57 L328.90,69.67 L329.57,69.78 L330.23,69.89 L330.90,70.01 L331.56,70.14 L332.22,70.27 L332.89,70.41 L333.55,70.56 L334.22,70.71 L334.88,70.87 L335.54,71.04 L336.21,71.22 L336.87,71.40 L337.54,71.60 L338.20,71.80 L338.87,72.01 L339.53,72.24 L340.19,72.47 L340.86,72.71 L341.52,72.97 L342.19,73.23 L342.85,73.51 L343.51,73.80 L344.18,74.11 L344.84,74.42 L345.51,74.75 L346.17,75.10 L346.84,75.46 L347.50,75.83 L348.16,76.22 L348.83,76.63 L349.49,77.05 L350.16,77.49 L350.82,77.94 L351.48,78.42 L352.15,78.91 L352.81,79.42 L353.48,79.94 L354.14,80.49 L354.80,81.06 L355.47,81.64 L356.13,82.25 L356.80,82.88 L357.46,83.52 L358.13,84.19 L358.79,84.88 L359.45,85.59 L360.12,86.32 L360.78,87.07 L361.45,87.85 L362.11,88.64 L362.77,89.46 L363.44,90.30 L364.10,91.16 L364.77,92.04 L365.43,92.94 L366.09,93.87 L366.76,94.81 L367.42,95.78 L368.09,96.77 L368.75,97.78 L369.42,98.80 L370.08,99.85 L370.74,100.92 L371.41,102.01 L372.07,103.12 L372.74,104.24 L373.40,105.39 L374.06,106.55 L374.73,107.73 L375.39,108.93 L376.06,110.14 L376.72,111.37 L377.38,112.62 L378.05,113.88 L378.71,115.16 L379.38,116.45 L380.04,117.76 L380.71,119.08 L381.37,120.41 L382.03,121.76 L382.70,123.11 L383.36,124.49 L384.03,125.87 L384.69,127.26 L385.35,128.67 L386.02,130.08 L386.68,131.51 L387.35,132.94" fill="none" stroke="#ff8000" stroke-width="1.1"/>
<path d="M260.50,66.55 L261.16,66.55 L261.83,66.55 L262.49,66.55 L263.16,66.55 L263.82,66.55 L264.48,66.55 L265.15,66.55 L265.81,66.55 L266.48,66.56 L267.14,66.56 L267.80,66.56 L268.47,66.56 L269.13,66.56 L269.80,66.56 L270.46,66.56 L271.13,66.56 L271.79,66.57 L272.45,66.57 L273.12,66.57 L273.78,66.57 L274.45,66.57 L275.11,66.57 L275.77,66.58 L276.44,66.58 L277.10,66.58 L277.77,66.58 L278.43,66.59 L279.09,66.59 L279.76,66.59 L280.42,66.60 L281.09,66.60 L281.75,66.60 L282.42,66.61 L283.08,66.61 L283.74,66.61 L284.41,66.62 L285.07,66.62 L285.74,66.63 L286.40,66.63 L287.06,66.64 L287.73,66.64 L288.39,66.65 L289.06,66.65 L289.72,66.66 L290.38,66.67 L291.05,66.68 L291.71,66.68 L292.38,66.69 L293.04,66.70 L293.71,66.71 L294.37,66.72 L295.03,66.73 L295.70,66.74 L296.36,66.75 L297.03,66.76 L297.69,66.77 L298.35,66.79 L299.02,66.80 L299.68,66.81 L300.35,66.83 L301.01,66.84 L301.67,66.86 L302.34,66.88 L303.00,66.90 L303.67,66.92 L304.33,66.94 L305.00,66.96 L305.66,66.98 L306.32,67.00 L306.99,67.03 L307.65,67.06 L308.32,67.08 L308.98,67.11 L309.64,67.14 L310.31,67.18 L310.97,67.21 L311.64,67.25 L312.30,67.28 L312.96,67.32 L313.63,67.37 L314.29,67.41 L314.96,67.46 L315.62,67.51 L316.29,67.56 L316.95,67.61 L317.61,67.67 L318.28,67.73 L318.94,67.79 L319.61,67.86 L320.27,67.93 L320.93,68.00 L321.60,68.08 L322.26,68.16 L322.93,68.25 L323.59,68.34 L324.25,68.43 L324.92,68.53 L325.58,68.64 L326.25,68.75 L326.91,68.86 L327.58,68.98 L328.24,69.11 L328.90,69.24 L329.57,69.38 L330.23,69.53 L330.90,69.68 L331.56,69.84 L332.22,70.01 L332.89,70.19 L333.55,70.38 L334.22,70.57 L334.88,70.77 L335.54,70.99 L336.21,71.21 L336.87,71.44 L337.54,71.69 L338.20,71.95 L338.87,72.21 L339.53,72.49 L340.19,72.78 L340.86,73.09 L341.52,73.41 L342.19,73.74 L342.85,74.08 L343.51,74.44 L344.18,74.82 L344.84,75.21 L345.51,75.62 L346.17,76.04 L346.84,76.48 L347.50,76.94 L348.16,77.41 L348.83,77.90 L349.49,78.41 L350.16,78.94 L350.82,79.49 L351.48,80.06 L352.15,80.65 L352.81,81.25 L353.48,81.88 L354.14,82.53 L354.80,83.20 L355.47,83.89 L356.13,84.60 L356.80,85.33 L357.46,86.09 L358.13,86.86 L358.79,87.66 L359.45,88.48 L360.12,89.32 L360.78,90.18 L361.45,91.06 L362.11,91.97 L362.77,92.89 L363.44,93.84 L364.10,94.81 L364.77,95.80 L365.43,96.81 L366.09,97.84 L366.76,98.89 L367.42,99.96 L368.09,101.05 L368.75,102.16 L369.42,103.28 L370.08,104.43 L370.74,105.59 L371.41,106.77 L372.07,107.97 L372.74,109.19 L373.40,110.42 L374.06,111.67 L374.73,112.93 L375.39,114.21 L376.06,115.50 L376.72,116.81 L377.38,118.13 L378.05,119.47 L378.71,120.81 L379.38,122.17 L380.04,123.55 L380.71,124.93 L381.37,126.32 L382.03,127.73 L382.70,129.15 L383.36,130.57 L384.03,132.01" fill="none" stroke="#ff00ff" stroke-width="1.1"/>
<path d="M260.50,65.63 L261.16,65.63 L261.83,65.63 L262.49,65.64 L263.16,65.64 L263.82,65.64 L264.48,65.64 L265.15,65.64 L265.81,65.64 L266.48,65.64 L267.14,65.64 L267.80,65.64 L268.47,65.65 L269.13,65.65 L269.80,65.65 L270.46,65.65 L271.13,65.65 L271.79,65.66 L272.45,65.66 L273.12,65.66 L273.78,65.66 L274.45,65.66 L275.11,65.67 L275.77,65.67 L276.44,65.67 L277.10,65.68 L277.77,65.68 L278.43,65.68 L279.09,65.69 L279.76,65.69 L280.42,65.69 L281.09,65.70 L281.75,65.70 L282.42,65.71 L283.08,65.71 L283.74,65.72 L284.41,65.72 L285.07,65.73 L285.74,65.73 L286.40,65.74 L287.06,65.75 L287.73,65.75 L288.39,65.76 L289.06,65.77 L289.72,65.78 L290.38,65.79 L291.05,65.79 L291.71,65.80 L292.38,65.81 L293.04,65.82 L293.71,65.84 L294.37,65.85 L295.03,65.86 L295.70,65.87 L296.36,65.89 L297.03,65.90 L297.69,65.92 L298.35,65.93 L299.02,65.95 L299.68,65.97 L300.35,65.99 L301.01,66.01 L301.67,66.03 L302.34,66.05 L303.00,66.07 L303.67,66.10 L304.33,66.12 L305.00,66.15 L305.66,66.18 L306.32,66.21 L306.99,66.24 L307.65,66.27 L308.32,66.31 L308.98,66.35 L309.64,66.38 L310.31,66.43 L310.97,66.47 L311.64,66.51 L312.30,66.56 L312.96,66.61 L313.63,66.67 L314.29,66.72 L314.96,66.78 L315.62,66.84 L316.29,66.91 L316.95,66.97 L317.61,67.05 L318.28,67.12 L318.94,67.20 L319.61,67.28 L320.27,67.37 L320.93,67.46 L321.60,67.56 L322.26,67.66 L322.93,67.77 L323.59,67.88 L324.25,68.00 L324.92,68.12 L325.58,68.25 L326.25,68.39 L326.91,68.53 L327.58,68.68 L328.24,68.84 L328.90,69.00 L329.57,69.18 L330.23,69.36 L330.90,69.55 L331.56,69.75 L332.22,69.96 L332.89,70.17 L333.55,70.40 L334.22,70.64 L334.88,70.89 L335.54,71.15 L336.21,71.43 L336.87,71.71 L337.54,72.01 L338.20,72.32 L338.87,72.64 L339.53,72.98 L340.19,73.33 L340.86,73.70 L341.52,74.08 L342.19,74.48 L342.85,74.90 L343.51,75.33 L344.18,75.78 L344.84,76.24 L345.51,76.72 L346.17,77.22 L346.84,77.74 L347.50,78.28 L348.16,78.84 L348.83,79.42 L349.49,80.01 L350.16,80.63 L350.82,81.27 L351.48,81.93 L352.15,82.61 L352.81,83.31 L353.48,84.03 L354.14,84.77 L354.80,85.53 L355.47,86.32 L356.13,87.13 L356.80,87.96 L357.46,88.81 L358.13,89.68 L358.79,90.57 L359.45,91.49 L360.12,92.42 L360.78,93.38 L361.45,94.36 L362.11,95.36 L362.77,96.38 L363.44,97.42 L364.10,98.48 L364.77,99.56 L365.43,100.65 L366.09,101.77 L366.76,102.91 L367.42,104.06 L368.09,105.23 L368.75,106.42 L369.42,107.63 L370.08,108.85 L370.74,110.09 L371.41,111.35 L372.07,112.62 L372.74,113.90 L373.40,115.20 L374.06,116.52 L374.73,117.85 L375.39,119.19 L376.06,120.54 L376.72,121.91 L377.38,123.28 L378.05,124.67 L378.71,126.07 L379.38,127.48 L380.04,128.90 L380.71,130.34 L381.37,131.78" fill="none" stroke="#00ffff" stroke-width="1.1"/>
<path d="M260.50,50.07 L261.16,50.19 L261.83,50.30 L262.49,50.41 L263.16,50.52 L263.82,50.63 L264.48,50.74 L265.15,50.86 L265.81,50.97 L266.48,51.08 L267.14,51.20 L267.80,51.31 L268.47,51.42 L269.13,51.54 L269.80,51.65 L270.46,51.77 L271.13,51.88 L271.79,52.00 L272.45,52.11 L273.12,52.23 L273.78,52.34 L274.45,52.46 L275.11,52.58 L275.77,52.69 L276.44,52.81 L277.10,52.93 L277.77,53.05 L278.43,53.17 L279.09,53.29 L279.76,53.41 L280.42,53.53 L281.09,53.65 L281.75,53.77 L282.42,53.89 L283.08,54.01 L283.74,54.13 L284.41,54.26 L285.07,54.38 L285.74,54.50 L286.40,54.63 L287.06,54.75 L287.73,54.88 L288.39,55.00 L289.06,55.13 L289.72,55.25 L290.38,55.38 L291.05,55.51 L291.71,55.64 L292.38,55.77 L293.04,55.90 L293.71,56.03 L294.37,56.16 L295.03,56.29 L295.70,56.42 L296.36,56.56 L297.03,56.69 L297.69,56.82 L298.35,56.96 L299.02,57.09 L299.68,57.23 L300.35,57.37 L301.01,57.51 L301.67,57.65 L302.34,57.79 L303.00,57.93 L303.67,58.07 L304.33,58.21 L305.00,58.35 L305.66,58.50 L306.32,58.64 L306.99,58.79 L307.65,58.93 L308.32,59.08 L308.98,59.23 L309.64,59.38 L310.31,59.53 L310.97,59.68 L311.64,59.83 L312.30,59.98 L312.96,60.14 L313.63,60.29 L314.29,60.45 L314.96,60.61 L315.62,60.77 L316.29,60.93 L316.95,61.09 L317.61,61.25 L318.28,61.41 L318.94,61.57 L319.61,61.74 L320.27,61.90 L320.93,62.07 L321.60,62.24 L322.26,62.41 L322.93,62.58 L323.59,62.75 L324.25,62.93 L324.92,63.10 L325.58,63.28 L326.25,63.45 L326.91,63.63 L327.58,63.81 L328.24,63.99 L328.90,64.17 L329.57,64.36 L330.23,64.54 L330.90,64.73 L331.56,64.92 L332.22,65.10 L332.89,65.29 L333.55,65.48 L334.22,65.68 L334.88,65.87 L335.54,66.07 L336.21,66.26 L336.87,66.46 L337.54,66.66 L338.20,66.86 L338.87,67.06 L339.53,67.27 L340.19,67.47 L340.86,67.68 L341.52,67.88 L342.19,68.09 L342.85,68.30 L343.51,68.51 L344.18,68.73 L344.84,68.94 L345.51,69.16 L346.17,69.37 L346.84,69.59 L347.50,69.81 L348.16,70.03 L348.83,70.25 L349.49,70.48 L350.16,70.70 L350.82,70.93 L351.48,71.15 L352.15,71.38 L352.81,71.61 L353.48,71.84 L354.14,72.07 L354.80,72.31 L355.47,72.54 L356.13,72.78 L356.80,73.02 L357.46,73.25 L358.13,73.49 L358.79,73.73 L359.45,73.98 L360.12,74.22 L360.78,74.46 L361.45,74.71 L362.11,74.96 L362.77,75.20 L363.44,75.45 L364.10,75.70 L364.77,75.95 L365.43,76.21 L366.09,76.46 L366.76,76.71 L367.42,76.97 L368.09,77.23 L368.75,77.48 L369.42,77.74 L370.08,78.00 L370.74,78.26 L371.41,78.52 L372.07,78.78 L372.74,79.05 L373.40,79.31 L374.06,79.58 L374.73,79.84 L375.39,80.11 L376.06,80.38 L376.72,80.64 L377.38,80.91 L378.05,81.18 L378.71,81.45 L379.38,81.73 L380.04,82.00 L380.71,82.27 L381.37,82.55 L382.03,82.82 L382.70,83.10 L383.36,83.37 L384.03,83.65 L384.69,83.93 L385.35,84.20 L386.02,84.48 L386.68,84.76 L387.35,85.04 L388.01,85.32 L388.67,85.60 L389.34,85.89 L390.00,86.17 L390.67,86.45 L391.33,86.74 L392.00,87.02 L392.66,87.31" fill="none" stroke="#000" stroke-width="1.35" stroke-dasharray="3.6 1.7"/>
</g>
<rect x="261.5" y="43.3" width="129.89999999999998" height="80.8" fill="none" stroke="#bcbcbc" stroke-width="0.9"/>
<path d="M264.60,124.1v-1.6M322.70,124.1v-1.6M380.80,124.1v-1.6M261.5,124.10h1.4M261.5,106.14h1.4M261.5,79.21h1.4M261.5,61.26h1.4M261.5,43.30h1.4" stroke="#bcbcbc" stroke-width="0.7" fill="none"/>
<text x="257.2" y="46.4" font-size="7.6" text-anchor="end" fill="#6a6a6a" textLength="8.4" lengthAdjust="spacingAndGlyphs">10</text><text x="257.4" y="43.5" font-size="5.3" fill="#6a6a6a" textLength="2.9000000000000004" lengthAdjust="spacingAndGlyphs">9</text>
<text x="257.2" y="64.35555555555554" font-size="7.6" text-anchor="end" fill="#6a6a6a" textLength="8.4" lengthAdjust="spacingAndGlyphs">10</text><text x="257.4" y="61.45555555555554" font-size="5.3" fill="#6a6a6a" textLength="2.9000000000000004" lengthAdjust="spacingAndGlyphs">7</text>
<text x="257.2" y="82.3111111111111" font-size="7.6" text-anchor="end" fill="#6a6a6a" textLength="8.4" lengthAdjust="spacingAndGlyphs">10</text><text x="257.4" y="79.4111111111111" font-size="5.3" fill="#6a6a6a" textLength="2.9000000000000004" lengthAdjust="spacingAndGlyphs">5</text>
<text x="257.2" y="109.24444444444444" font-size="7.6" text-anchor="end" fill="#6a6a6a" textLength="8.4" lengthAdjust="spacingAndGlyphs">10</text><text x="257.4" y="106.34444444444443" font-size="5.3" fill="#6a6a6a" textLength="2.9000000000000004" lengthAdjust="spacingAndGlyphs">2</text>
<text x="257.2" y="127.19999999999999" font-size="7.6" text-anchor="end" fill="#6a6a6a" textLength="8.4" lengthAdjust="spacingAndGlyphs">10</text><text x="257.4" y="124.29999999999998" font-size="5.3" fill="#6a6a6a" textLength="2.9000000000000004" lengthAdjust="spacingAndGlyphs">0</text>
<text x="264.8" y="133.1" font-size="7.6" text-anchor="end" fill="#6a6a6a" textLength="8.4" lengthAdjust="spacingAndGlyphs">10</text><text x="265.0" y="130.2" font-size="5.3" fill="#6a6a6a" textLength="5.500000000000001" lengthAdjust="spacingAndGlyphs">−1</text>
<text x="324.6" y="133.1" font-size="7.6" text-anchor="end" fill="#6a6a6a" textLength="8.4" lengthAdjust="spacingAndGlyphs">10</text><text x="324.8" y="130.2" font-size="5.3" fill="#6a6a6a" textLength="2.9000000000000004" lengthAdjust="spacingAndGlyphs">0</text>
<text x="383.8" y="133.1" font-size="7.6" text-anchor="end" fill="#6a6a6a" textLength="8.4" lengthAdjust="spacingAndGlyphs">10</text><text x="384.0" y="130.2" font-size="5.3" fill="#6a6a6a" textLength="2.9000000000000004" lengthAdjust="spacingAndGlyphs">1</text>
<text x="326.8" y="145.9" font-size="7.6" text-anchor="middle" fill="#6a6a6a" textLength="21.8" lengthAdjust="spacingAndGlyphs">r [kpc]</text>
<g transform="translate(242.8,106.7) rotate(-90)" fill="#6a6a6a" font-size="7.2"><text x="-0.3" y="0">ρ</text><text x="6.4" y="0">[</text><text x="11.4" y="0" textLength="5.8" lengthAdjust="spacingAndGlyphs">M</text><circle cx="19.2" cy="0.2" r="1.45" fill="none" stroke="#6a6a6a" stroke-width="0.45"/><circle cx="19.2" cy="0.2" r="0.35"/><text x="23.9" y="0" textLength="12.3" lengthAdjust="spacingAndGlyphs">kpc</text><text x="37.0" y="-3.2" font-size="5.2" textLength="5.0" lengthAdjust="spacingAndGlyphs">−3</text><text x="42.7" y="0">]</text></g>
</svg>
</body></html>
